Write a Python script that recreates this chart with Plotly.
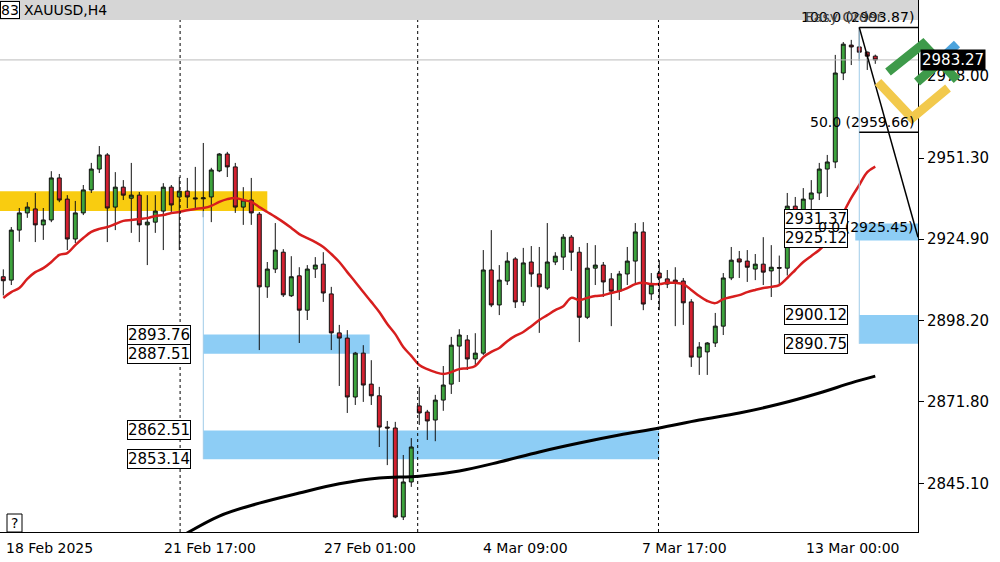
import plotly.graph_objects as go

idx = list(range(110))
opens = [2912.6,2911.5,2927.8,2933.4,2934.7,2929.5,2931.1,2944.8,2937.9,2924.9,2933.4,2940.9,2947.7,2952.3,2935.3,2941.8,2938.2,2939.2,2929.5,2930.4,
 2934.0,2941.8,2938.6,2940.5,2938.3,2938.0,2938.6,2947.1,2952.6,2948.4,2935.3,2937.6,2933.0,2909.3,2915.1,2920.6,2906.4,2912.9,2901.7,2915.1,
 2916.7,2907.0,2894.3,2892.6,2873.4,2887.7,2877.6,2873.8,2863.6,2863.3,2834.3,2845.7,2870.5,2868.5,2865.9,2872.4,2877.6,2890.0,2892.0,2885.8,
 2887.7,2914.8,2903.4,2911.2,2918.4,2904.4,2917.4,2913.5,2908.9,2917.4,2919.0,2925.5,2920.6,2899.4,2915.4,2916.4,2911.9,2907.9,2913.5,2917.7,
 2927.2,2907.0,2913.8,2911.9,2911.5,2911.2,2904.4,2886.4,2888.1,2891.0,2896.5,2912.2,2918.4,2917.7,2915.1,2916.7,2914.5,2915.6,2915.4,2935.6,
 2933.4,2937.9,2939.9,2947.7,2950.0,2979.0,2988.1,2987.5,2985.8,2984.5]
highs = [2915.0,2928.8,2935.0,2936.9,2939.9,2935.0,2947.0,2946.1,2939.2,2937.3,2942.5,2949.7,2955.2,2952.9,2946.7,2944.1,2949.7,2940.2,2939.2,2939.2,
 2943.1,2942.5,2945.1,2944.8,2948.4,2956.2,2948.1,2952.9,2953.3,2949.7,2941.8,2944.8,2933.7,2917.4,2930.1,2921.6,2919.3,2915.7,2916.4,2919.0,
 2920.6,2909.3,2896.9,2895.2,2888.1,2890.3,2885.4,2876.7,2865.6,2865.3,2854.5,2860.0,2876.7,2869.2,2874.1,2883.5,2893.0,2895.5,2893.6,2894.2,
 2921.3,2927.8,2916.4,2920.6,2919.0,2922.0,2922.6,2922.3,2930.1,2920.6,2926.5,2926.2,2922.3,2923.6,2922.9,2917.4,2913.8,2914.5,2922.3,2930.1,
 2930.4,2913.8,2918.0,2914.8,2915.7,2912.2,2905.3,2891.3,2891.3,2900.8,2913.8,2922.3,2921.0,2921.3,2920.0,2925.5,2922.9,2919.5,2939.9,2938.6,
 2941.5,2944.1,2949.7,2952.3,2984.9,2989.1,2989.8,2993.87,2986.0,2985.0]
lows = [2906.5,2909.9,2924.0,2931.8,2923.9,2924.6,2930.4,2936.9,2921.3,2923.6,2932.7,2939.9,2946.4,2923.9,2927.8,2937.6,2926.9,2923.9,2916.4,2926.9,
 2921.3,2933.4,2921.3,2935.0,2935.0,2932.0,2930.4,2946.7,2945.1,2933.4,2929.5,2929.5,2888.7,2905.7,2913.8,2906.0,2906.0,2891.0,2898.5,2912.2,
 2904.4,2888.7,2877.0,2868.2,2870.8,2871.8,2870.8,2857.1,2851.2,2833.9,2833.3,2844.1,2864.3,2859.4,2859.0,2868.9,2874.4,2878.3,2882.2,2883.2,
 2887.1,2902.7,2900.1,2909.9,2902.4,2903.1,2909.3,2894.3,2908.3,2916.4,2914.8,2914.5,2891.3,2898.8,2909.9,2906.0,2896.5,2905.0,2909.9,2909.9,
 2901.7,2905.0,2901.7,2908.9,2896.5,2896.9,2883.2,2880.6,2880.6,2889.7,2893.6,2911.5,2912.2,2910.9,2911.5,2909.9,2906.0,2910.0,2913.0,2930.0,
 2932.7,2933.4,2937.6,2938.6,2948.0,2976.7,2981.6,2983.0,2980.0,2982.0]
closes = [2911.3,2927.8,2933.4,2935.3,2929.5,2931.1,2944.8,2937.6,2924.9,2933.4,2940.9,2947.7,2952.3,2935.0,2941.8,2939.2,2939.2,2929.5,2930.4,2934.0,
 2941.8,2936.0,2940.5,2938.6,2938.0,2938.3,2947.4,2952.6,2948.4,2935.3,2937.6,2933.4,2909.3,2915.1,2921.3,2906.7,2912.6,2901.7,2915.1,2916.4,
 2907.3,2894.3,2892.6,2873.4,2887.7,2877.3,2873.8,2863.6,2863.3,2834.3,2845.7,2857.1,2868.2,2865.6,2872.4,2877.3,2890.3,2893.6,2885.8,2887.7,
 2914.8,2903.4,2911.5,2917.7,2904.4,2917.1,2913.5,2909.3,2917.4,2919.3,2925.5,2920.6,2899.4,2915.4,2916.4,2910.9,2907.9,2913.5,2917.7,2927.2,
 2903.7,2909.9,2912.2,2910.2,2910.6,2904.1,2886.4,2889.7,2891.0,2896.5,2912.2,2918.0,2917.4,2915.7,2916.7,2914.1,2915.7,2915.4,2935.6,2933.4,
 2937.9,2939.9,2947.7,2950.0,2979.0,2988.4,2987.5,2985.8,2984.5,2983.27]
ma_fast = [2905.7,2907.6,2908.9,2911.9,2914.1,2915.4,2917.4,2919.7,2920.3,2922.9,2925.2,2927.2,2928.2,2928.8,2929.8,2930.8,2931.1,2931.4,2931.7,2932.4,
 2932.7,2933.4,2933.7,2934.3,2934.7,2935.0,2935.7,2937.0,2937.9,2938.3,2937.6,2937.0,2935.3,2933.7,2932.1,2930.4,2928.5,2926.5,2925.2,2923.9,
 2922.3,2920.0,2917.4,2914.1,2910.9,2907.6,2904.4,2901.1,2897.2,2893.9,2889.7,2886.8,2883.8,2882.5,2881.5,2880.9,2881.5,2882.5,2882.8,2883.5,
 2886.4,2888.1,2889.4,2891.6,2893.3,2894.6,2896.5,2898.5,2900.1,2901.7,2903.0,2905.7,2905.0,2905.7,2906.3,2906.6,2907.3,2907.9,2908.9,2910.2,
 2910.6,2910.2,2910.2,2910.6,2910.6,2910.2,2908.3,2906.3,2904.7,2904.0,2905.3,2906.0,2906.6,2907.6,2908.3,2908.9,2909.3,2909.9,2912.2,2914.8,
 2917.4,2919.4,2921.3,2924.2,2928.5,2933.4,2938.3,2942.5,2946.7,2948.5]
ma_slow_idx = [21,27,32,37,42,47,52,57,62,67,72,77,82,87,92,97,102,106,109]
ma_slow = [2826.0,2834.6,2838.8,2842.1,2845.1,2847.0,2847.6,2849.3,2852.2,2855.5,2858.4,2861.0,2863.3,2865.9,2868.2,2871.1,2874.7,2878.0,2880.2]

price_ticks = [2978.00,2951.30,2924.90,2898.20,2871.80,2845.10]
date_labels = ["18 Feb 2025","21 Feb 17:00","27 Feb 01:00","4 Mar 09:00","7 Mar 17:00","13 Mar 00:00"]
date_px = [4,210,370,525,684,852]
vlines = [22.1,51.8,81.9]
zone_yellow = (2934.0,2940.5)
zones_blue = [(25,45.8,2887.51,2893.76),(25,82,2853.14,2862.51),(107,115,2890.75,2900.12)]
box_labels = [(2893.76,159),(2887.51,159),(2862.51,159),(2853.14,159),(2931.37,816),(2925.12,816),(2900.12,816),(2890.75,816)]
fib_high, fib_mid, fib_low = 2993.87, 2959.66, 2925.45
last_price = 2983.27

W, H = 918, 532
x0, x1 = -0.4125, 114.34
y0, y1 = 2829.4, 3002.8

fig = go.Figure()
fig.add_trace(go.Candlestick(x=idx, open=opens, high=highs, low=lows, close=closes,
    increasing=dict(line=dict(color="#111", width=1), fillcolor="#3DA33D"),
    decreasing=dict(line=dict(color="#111", width=1), fillcolor="#D32030"),
    whiskerwidth=0, showlegend=False, hoverinfo="skip"))
fig.add_trace(go.Scatter(x=idx, y=ma_fast, mode="lines", line=dict(color="#D71E1E", width=2.5, shape="spline"), showlegend=False))
fig.add_trace(go.Scatter(x=ma_slow_idx, y=ma_slow, mode="lines", line=dict(color="#000", width=3, shape="spline"), showlegend=False))

shapes = []
shapes.append(dict(type="rect", xref="x", yref="y", x0=x0, x1=33.0, y0=zone_yellow[0], y1=zone_yellow[1], fillcolor="#F9CC10", line_width=0, layer="below"))
for a, b, lo, hi in zones_blue:
    shapes.append(dict(type="rect", xref="x", yref="y", x0=a, x1=min(b, x1), y0=lo, y1=hi, fillcolor="#8DCDF5", line_width=0, layer="below"))
for v in vlines:
    shapes.append(dict(type="line", xref="x", yref="paper", x0=v, x1=v, y0=0, y1=1, line=dict(color="#000", width=1, dash="dot")))
shapes.append(dict(type="line", xref="x", yref="y", x0=25, x1=25, y0=2853.14, y1=2934.0, line=dict(color="#9FCBE8", width=1)))
shapes.append(dict(type="line", xref="x", yref="y", x0=107, x1=107, y0=2890.75, y1=fib_high, line=dict(color="#9FCBE8", width=1)))
shapes.append(dict(type="line", xref="paper", yref="y", x0=0, x1=1, y0=last_price, y1=last_price, line=dict(color="#BBBBBB", width=1)))
for f in (fib_high, fib_mid):
    shapes.append(dict(type="line", xref="x", yref="y", x0=107, x1=x1, y0=f, y1=f, line=dict(color="#000", width=1.5)))
shapes.append(dict(type="rect", xref="x", yref="y", x0=106.5, x1=x1, y0=fib_low-1, y1=fib_low+4.5, fillcolor="#8DCDF5", line_width=0))
shapes.append(dict(type="line", xref="x", yref="y", x0=107, x1=x1, y0=fib_high, y1=fib_low, line=dict(color="#000", width=1.5)))
shapes.append(dict(type="rect", xref="paper", yref="paper", x0=0, x1=1, y0=1-20/H, y1=1, fillcolor="#D6D6D6", line_width=0))
def P(x, y): return x / W, 1 - y / H
for pts, col in [([(878,82),(912,118),(948,88)], "#F2C94C"), ([(888,72),(923,44),(957,80)], "#3E9A4A"), ([(917,82),(940,62)], "#3E9A4A"), ([(940,60),(957,44)], "#4BA3DD")]:
    path = "M " + " L ".join(f"{P(a,b)[0]},{P(a,b)[1]}" for a, b in pts)
    shapes.append(dict(type="path", xref="paper", yref="paper", path=path, line=dict(color=col, width=9)))
shapes.append(dict(type="rect", xref="paper", yref="paper", x0=7/W, x1=22/W, y0=0, y1=18/H, line=dict(color="#000", width=1), fillcolor="white"))

ann = []
font = dict(family="DejaVu Sans", size=14, color="#000")
for t, p in zip(date_labels, date_px):
    ann.append(dict(x=p/W, y=-16/H, xref="paper", yref="paper", text=t, showarrow=False, font=font, xanchor="left" if p < 10 else "center", yanchor="middle"))
for v, p in box_labels:
    ann.append(dict(x=p/W, y=v, xref="paper", yref="y", text=f"{v:.2f}", showarrow=False, font=dict(family="DejaVu Sans", size=15, color="#000"),
                    bgcolor="white", bordercolor="#000", borderwidth=1, borderpad=0, xanchor="center", yanchor="middle"))
ann.append(dict(x=916/W, y=fib_high, xref="paper", yref="y", text="100.0 (2993.87)", showarrow=False, font=font, xanchor="right", yanchor="bottom"))
ann.append(dict(x=884/W, y=fib_high, xref="paper", yref="y", text="Easy Order", showarrow=False, font=dict(family="DejaVu Sans", size=14, color="#444"), xanchor="right", yanchor="bottom"))
ann.append(dict(x=916/W, y=fib_mid, xref="paper", yref="y", text="50.0 (2959.66)", showarrow=False, font=font, xanchor="right", yanchor="bottom"))
ann.append(dict(x=916/W, y=fib_low, xref="paper", yref="y", text="0.0 (2925.45)", showarrow=False, font=font, xanchor="right", yanchor="bottom"))
ann.append(dict(x=22/W, y=1-10/H, xref="paper", yref="paper", text="XAUUSD,H4", showarrow=False, font=font, xanchor="left", yanchor="middle"))
ann.append(dict(x=0, y=1-10/H, xref="paper", yref="paper", text="83", showarrow=False, font=font, xanchor="left", yanchor="middle", bgcolor="white", bordercolor="#000", borderwidth=1, borderpad=0))
ann.append(dict(x=14.5/W, y=9/H, xref="paper", yref="paper", text="?", showarrow=False, font=font, xanchor="center", yanchor="middle"))
ann.append(dict(x=1+2/W, y=last_price, xref="paper", yref="y", text=f"{last_price:.2f}", showarrow=False, font=dict(family="DejaVu Sans", size=15, color="white"), bgcolor="#000", xanchor="left", yanchor="middle", borderpad=1))

fig.update_layout(width=1000, height=562, margin=dict(l=0, r=82, t=0, b=30), plot_bgcolor="white", paper_bgcolor="white",
    shapes=shapes, annotations=ann, font=font,
    xaxis=dict(range=[x0, x1], showgrid=False, showticklabels=False, zeroline=False, rangeslider=dict(visible=False), showline=True, linecolor="#000", mirror=True, ticks=""),
    yaxis=dict(range=[y0, y1], side="right", tickvals=price_ticks, ticktext=[f"{v:.2f}" for v in price_ticks], ticks="outside", ticklen=5, tickcolor="#000",
               showgrid=False, zeroline=False, showline=True, linecolor="#000", mirror=True, tickfont=dict(family="DejaVu Sans", size=15, color="#000")))
fig.write_html("out.html", config={"displayModeBar": False}, post_script="document.body.style.margin='0';document.body.style.overflow='hidden';")
